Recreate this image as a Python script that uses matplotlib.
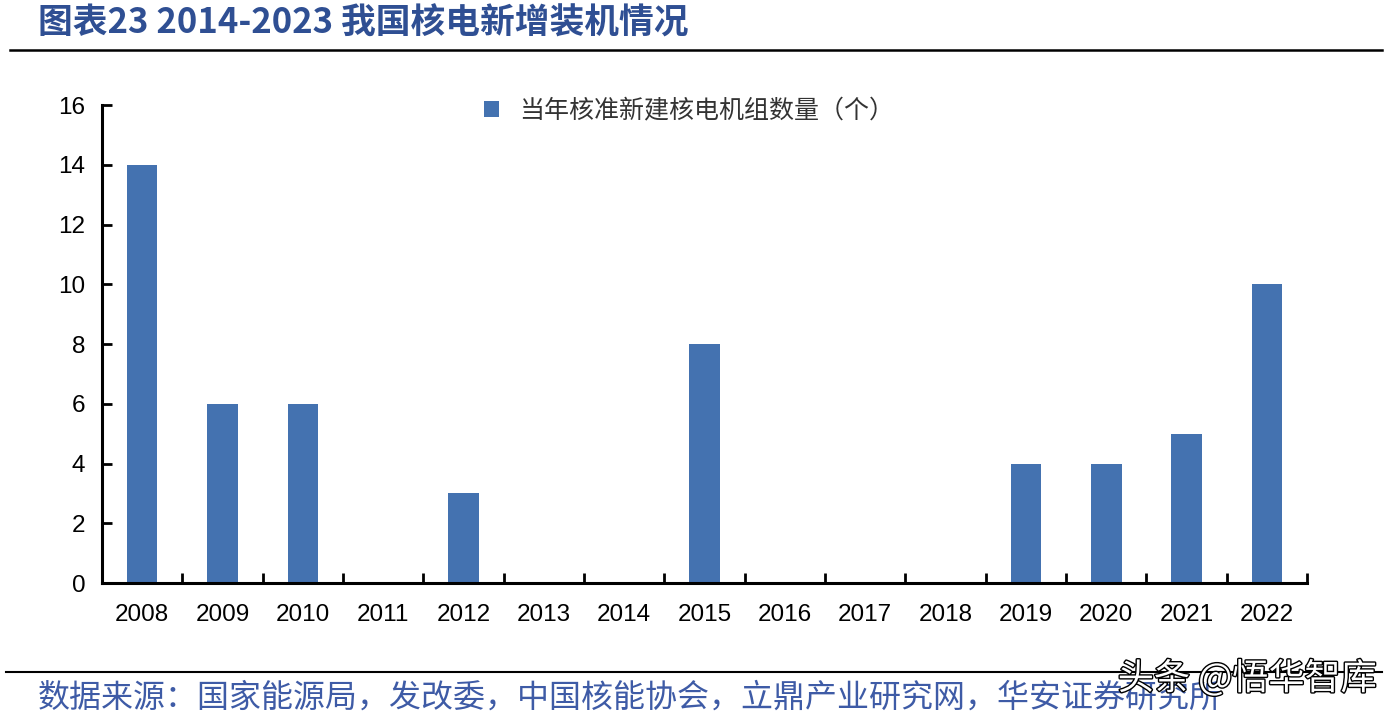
#!/usr/bin/env python3

import numpy as np
import matplotlib.pyplot as plt
import matplotlib.patheffects as pe
from matplotlib.lines import Line2D

plt.rcParams['font.family'] = ['Noto Sans CJK SC', 'DejaVu Sans']

# data
years = ['2008', '2009', '2010', '2011', '2012', '2013', '2014', '2015',
         '2016', '2017', '2018', '2019', '2020', '2021', '2022']
units = [14, 6, 6, 0, 3, 0, 0, 8, 0, 0, 0, 4, 4, 5, 10]
series_name = '当年核准新建核电机组数量（个）'
title = '图表23 2014-2023 我国核电新增装机情况'
source = '数据来源：国家能源局，发改委，中国核能协会，立鼎产业研究网，华安证券研究所'
yticks = [0, 2, 4, 6, 8, 10, 12, 14, 16]

bar_color = '#4472B0'
blue_text = '#2F4F93'
num_font = ['Liberation Sans', 'DejaVu Sans']

fig = plt.figure(figsize=(13.92, 7.22), dpi=100)
ax = fig.add_axes([0.0733, 0.1925, 0.8657, 0.662])

x = np.arange(len(years))
ax.bar(x, units, width=0.38, color=bar_color, label=series_name, zorder=2)

ax.set_xlim(-0.5, len(years) - 0.5)
ax.set_ylim(0, 16)
ax.set_yticks(yticks)
ax.set_xticks(x)
ax.set_xticklabels(years, fontsize=17.5, family=num_font)
for lbl in ax.get_yticklabels():
	lbl.set_fontsize(17.5)
	lbl.set_family(num_font)
ax.set_xticks(np.arange(-0.5, len(years)), minor=True)
ax.tick_params(axis='x', which='major', length=0, pad=15)
ax.tick_params(axis='x', which='minor', direction='in', length=7, width=2)
ax.tick_params(axis='y', direction='in', length=7, width=2, pad=12)

for s in ['top', 'right']:
	ax.spines[s].set_visible(False)
for s in ['left', 'bottom']:
	ax.spines[s].set_linewidth(2.2)

leg = ax.legend(loc='upper center', bbox_to_anchor=(0.487, 1.062), frameon=False,
		fontsize=18, handlelength=0.6, handleheight=0.6, handletextpad=0.8)
for t in leg.get_texts():
	t.set_color('#333333')

# title and frame lines
fig.text(0.027, 0.968, title, fontsize=25, fontweight='bold', color=blue_text,
	 va='center', ha='left')
fig.add_artist(Line2D([0.007, 0.993], [0.931, 0.931], color='black', lw=1.8))
fig.add_artist(Line2D([0.004, 0.993], [0.069, 0.069], color='black', lw=1.5))
fig.text(0.027, 0.034, source, fontsize=23, color='#3E5BA6', va='center', ha='left')
fig.text(0.803, 0.06, '头条 @悟华智库', fontsize=26, color='white', va='center', ha='left',
	 path_effects=[pe.withStroke(linewidth=2, foreground='black')])

fig.savefig('out.png', dpi=100)
